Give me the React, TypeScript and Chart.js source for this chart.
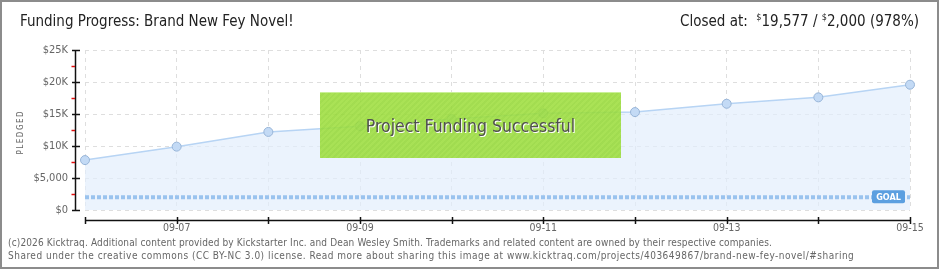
import React, { useEffect, useRef } from "react";
import { Chart, registerables } from "chart.js";

Chart.register(...registerables);

const dates = ["09-06", "09-07", "09-08", "09-09", "09-10", "09-11", "09-12", "09-13", "09-14", "09-15"];
const pledged = [7800, 9900, 12200, 13100, 14200, 15100, 15300, 16600, 17600, 19577];
const goalAmount = 2000;
const goalLine = dates.map(() => goalAmount);
const yTicks = [0, 5000, 10000, 15000, 20000, 25000];

const FONT = "'DejaVu Sans Condensed', 'DejaVu Sans', sans-serif";

const axesPlugin = {
  id: "kickAxes",
  afterDraw(chart: any) {
    const { ctx, chartArea, scales } = chart;
    const x = scales.x;
    const y = scales.y;
    ctx.save();
    const ax = 75.5;
    ctx.strokeStyle = "#111";
    ctx.lineWidth = 1.5;
    ctx.beginPath();
    ctx.moveTo(ax, y.getPixelForValue(25000));
    ctx.lineTo(ax, y.getPixelForValue(0));
    ctx.stroke();
    for (let v = 0; v <= 25000; v += 2500) {
      const py = Math.round(y.getPixelForValue(v)) + 0.5;
      const major = v % 5000 === 0;
      ctx.strokeStyle = major ? "#111" : "#e01010";
      ctx.beginPath();
      ctx.moveTo(major ? 72 : 71.5, py);
      ctx.lineTo(major ? 80 : 75, py);
      ctx.stroke();
    }
    const ay = 220.5;
    ctx.strokeStyle = "#111";
    ctx.beginPath();
    ctx.moveTo(chartArea.left, ay);
    ctx.lineTo(chartArea.right, ay);
    ctx.stroke();
    for (let i = 0; i < dates.length; i++) {
      const px = Math.round(x.getPixelForValue(i)) + 0.5;
      ctx.beginPath();
      ctx.moveTo(px, ay - 3.5);
      ctx.lineTo(px, ay + 3.5);
      ctx.stroke();
    }
    ctx.translate(21, 133);
    ctx.rotate(-Math.PI / 2);
    ctx.fillStyle = "#666";
    ctx.font = `8px ${FONT}`;
    ctx.textBaseline = "middle";
    const t = "PLEDGED";
    const sp = 1.5;
    let w = 0;
    for (const c of t) w += ctx.measureText(c).width + sp;
    w -= sp;
    let cx = -w / 2;
    ctx.textAlign = "left";
    for (const c of t) {
      ctx.fillText(c, cx, 0);
      cx += ctx.measureText(c).width + sp;
    }
    ctx.restore();

    ctx.save();
    const gy = y.getPixelForValue(goalAmount);
    const bx = 872, bw = 33, bh = 13;
    const by = gy - 7;
    ctx.fillStyle = "#5b9fe0";
    ctx.beginPath();
    (ctx as any).roundRect(bx, by, bw, bh, 2);
    ctx.fill();
    ctx.fillStyle = "#fff";
    ctx.font = `bold 9px ${FONT}`;
    ctx.textAlign = "center";
    ctx.textBaseline = "middle";
    ctx.fillText("GOAL", bx + bw / 2, by + bh / 2 + 0.5);
    ctx.restore();
  },
};

function fmt(v: number) {
  if (v === 0) return "$0";
  if (v >= 10000) return `$${v / 1000}K`;
  return "$" + v.toLocaleString("en-US");
}

export default function App() {
  const ref = useRef<HTMLCanvasElement>(null);
  useEffect(() => {
    const chart = new Chart(ref.current!, {
      type: "line",
      data: {
        labels: dates,
        datasets: [
          {
            label: "Pledged",
            data: pledged,
            borderColor: "#b7d4f4",
            borderWidth: 1.5,
            backgroundColor: "rgba(226,238,252,0.7)",
            fill: "origin",
            tension: 0,
            pointRadius: 4.5,
            pointBackgroundColor: "#c3daf5",
            pointBorderColor: "#98b5d8",
            pointBorderWidth: 1,
            order: 1,
          },
          {
            label: "Goal",
            data: goalLine,
            borderColor: "#9ac3ee",
            borderWidth: 4,
            borderDash: [4, 2],
            pointRadius: 0,
            fill: false,
            order: 0,
          },
        ],
      },
      options: {
        responsive: false,
        animation: false,
        layout: { padding: { left: 0, right: 30, top: 50, bottom: 35 } },
        plugins: { legend: { display: false }, tooltip: { enabled: false }, title: { display: false } },
        scales: {
          x: {
            type: "category",
            offset: false,
            border: { display: false, dash: [4, 4] },
            grid: { color: "#dedede", drawTicks: false },
            ticks: {
              autoSkip: false,
              maxRotation: 0,
              padding: 12,
              color: "#666",
              font: { family: FONT, size: 10.5 },
              callback: (_v: any, i: number) => (i % 2 === 1 ? dates[i] : ""),
            },
            afterFit: (s: any) => {
              s.height = 25;
            },
          },
          y: {
            min: 0,
            max: 25000,
            afterBuildTicks: (s: any) => {
              s.ticks = yTicks.map((v) => ({ value: v }));
            },
            border: { display: false, dash: [4, 4] },
            grid: { color: "#dedede", drawTicks: false },
            ticks: {
              padding: 17,
              color: "#666",
              font: { family: FONT, size: 11 },
              callback: (v: any) => fmt(Number(v)),
            },
            afterFit: (s: any) => {
              s.width = 85;
            },
          },
        },
      },
      plugins: [axesPlugin],
    } as any);
    return () => chart.destroy();
  }, []);

  return (
    <div style={{ position: "absolute", left: 0, top: 0, width: 940, height: 270, background: "#fff", overflow: "hidden" }}>
      <canvas ref={ref} width={940} height={270} style={{ position: "absolute", left: 0, top: 0 }} />
      <div style={{ position: "absolute", left: 0, top: 0, width: 939, height: 269, border: "2px solid #8c8c8c", boxSizing: "border-box", pointerEvents: "none" }} />
      <div style={{ position: "absolute", left: 20, top: 12, fontFamily: FONT, fontSize: 15, color: "#222", whiteSpace: "nowrap" }}>
        Funding Progress: Brand New Fey Novel!
      </div>
      <div style={{ position: "absolute", right: 21, top: 12, fontFamily: FONT, fontSize: 15, color: "#222", whiteSpace: "nowrap" }}>
        Closed at:&nbsp; <sup style={{ fontSize: 9 }}>$</sup>19,577 / <sup style={{ fontSize: 9 }}>$</sup>2,000 (978%)
      </div>
      <div
        style={{
          position: "absolute",
          left: 320,
          top: 92,
          width: 301,
          height: 66,
          background:
            "repeating-linear-gradient(135deg, rgba(158,222,62,0.88) 0px, rgba(158,222,62,0.88) 2px, rgba(150,216,56,0.88) 2px, rgba(150,216,56,0.88) 4px)",
          borderTop: "1px solid rgba(205,242,160,0.9)",
          boxSizing: "border-box",
          display: "flex",
          alignItems: "center",
          justifyContent: "center",
          fontFamily: FONT,
          fontSize: 17.5,
          color: "#505050",
          textShadow: "1px 1px 0 #fff",
          whiteSpace: "nowrap",
        }}
      >
        Project Funding Successful
      </div>
      <div style={{ position: "absolute", left: 8, top: 236, fontFamily: FONT, fontSize: 10, color: "#666", lineHeight: "13px", whiteSpace: "nowrap" }}>
        <div style={{ letterSpacing: "0.14px" }}>(c)2026 Kicktraq. Additional content provided by Kickstarter Inc. and Dean Wesley Smith. Trademarks and related content are owned by their respective companies.</div>
        <div style={{ letterSpacing: "0.49px" }}>Shared under the creative commons (CC BY-NC 3.0) license. Read more about sharing this image at www.kicktraq.com/projects/403649867/brand-new-fey-novel/#sharing</div>
      </div>
    </div>
  );
}
